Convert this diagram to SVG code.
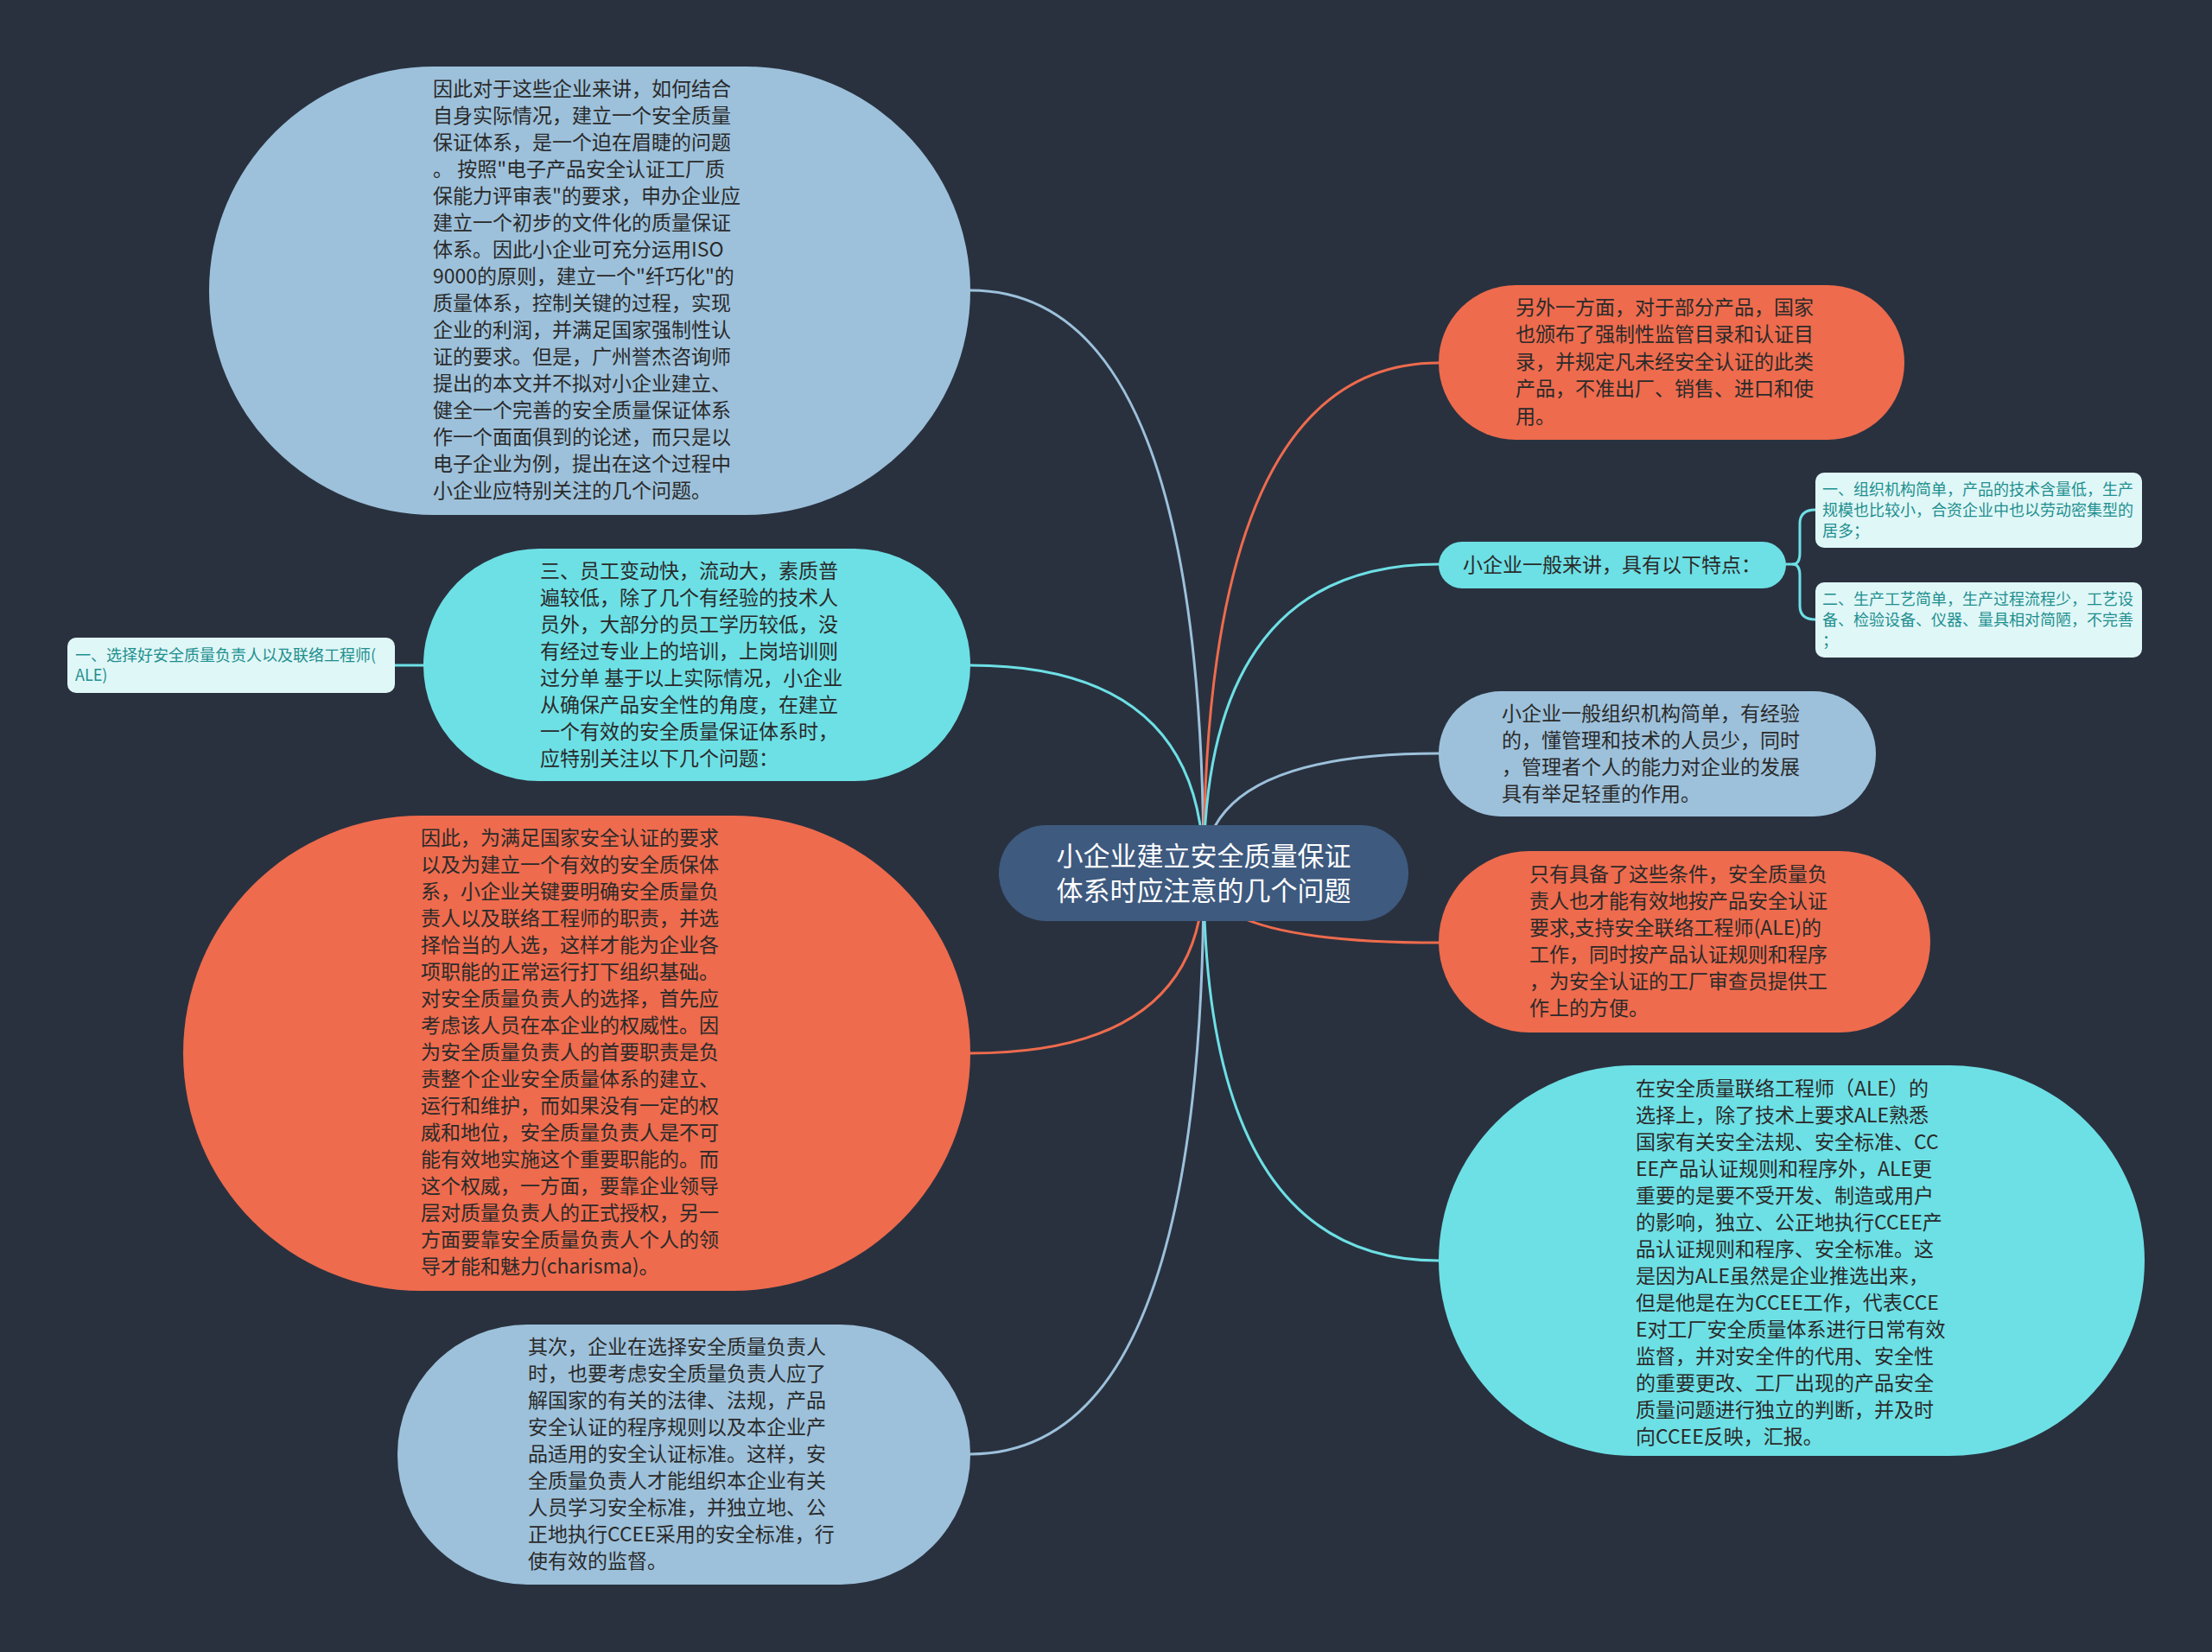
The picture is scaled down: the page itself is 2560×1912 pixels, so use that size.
<svg xmlns="http://www.w3.org/2000/svg" width="2560" height="1912" viewBox="0 0 2560 1912">
<style>
.blue{fill:#9DC1DB}
.cyan{fill:#6DE0E5}
.orange{fill:#EE6B4D}
.root{fill:#3E5A7F}
.light{fill:#E0F7F7}
.t{font-family:"Noto Sans CJK SC","Noto Sans",sans-serif;font-size:23px;fill:#2A2A2A}
.s{font-family:"Noto Sans CJK SC","Noto Sans",sans-serif;font-size:18px;fill:#1E8F8F}
.rt{font-family:"Noto Sans CJK SC","Noto Sans",sans-serif;font-size:31px;fill:#FFFFFF;text-anchor:middle}
.c{fill:none;stroke-width:3;stroke-linecap:round}
.cb{stroke:#9DC1DB}
.cc{stroke:#6DE0E5}
.co{stroke:#EE6B4D}
</style>
<rect x="0" y="0" width="2560" height="1912" fill="#29313F"/>
<g id="connectors">
<path class="c cb" d="M1393,1010 Q1393,336 1123,336"/>
<path class="c cc" d="M1393,1010 Q1393,770 1123,770"/>
<path class="c co" d="M1393,1010 Q1393,1219 1123,1219"/>
<path class="c cb" d="M1393,1010 Q1393,1683 1123,1683"/>
<path class="c co" d="M1393,1010 Q1393,420 1665,420"/>
<path class="c cc" d="M1393,1010 Q1393,653 1665,653"/>
<path class="c cb" d="M1393,1010 Q1393,872 1665,872"/>
<path class="c co" d="M1393,1010 Q1393,1091 1665,1091"/>
<path class="c cc" d="M1393,1010 Q1393,1459 1665,1459"/>
<path class="c cc" d="M490,770 L457,770"/>
<path class="c cc" d="M2067,653 H2075 Q2083,653 2083,640 V606 Q2083,590 2101,590"/>
<path class="c cc" d="M2075,653 Q2083,653 2083,666 V701 Q2083,717 2101,717"/>
</g>
<g id="root">
<rect class="root" x="1156" y="955" width="474" height="111" rx="55" ry="55"/>
<text class="rt"><tspan x="1393" y="1002">小企业建立安全质量保证</tspan><tspan x="1393" y="1042">体系时应注意的几个问题</tspan></text>
</g>
<g id="node-a">
<rect class="blue" x="242" y="77" width="881" height="519" rx="260" ry="260"/>
<text class="t">
<tspan x="501" y="111">因此对于这些企业来讲，如何结合</tspan>
<tspan x="501" y="142">自身实际情况，建立一个安全质量</tspan>
<tspan x="501" y="173">保证体系，是一个迫在眉睫的问题</tspan>
<tspan x="501" y="204">。 按照"电子产品安全认证工厂质</tspan>
<tspan x="501" y="235">保能力评审表"的要求，申办企业应</tspan>
<tspan x="501" y="266">建立一个初步的文件化的质量保证</tspan>
<tspan x="501" y="297">体系。因此小企业可充分运用ISO</tspan>
<tspan x="501" y="328">9000的原则，建立一个"纤巧化"的</tspan>
<tspan x="501" y="359">质量体系，控制关键的过程，实现</tspan>
<tspan x="501" y="390">企业的利润，并满足国家强制性认</tspan>
<tspan x="501" y="421">证的要求。但是，广州誉杰咨询师</tspan>
<tspan x="501" y="452">提出的本文并不拟对小企业建立、</tspan>
<tspan x="501" y="483">健全一个完善的安全质量保证体系</tspan>
<tspan x="501" y="514">作一个面面俱到的论述，而只是以</tspan>
<tspan x="501" y="545">电子企业为例，提出在这个过程中</tspan>
<tspan x="501" y="576">小企业应特别关注的几个问题。</tspan>
</text>
</g>
<g id="node-b">
<rect class="cyan" x="490" y="635" width="633" height="269" rx="134" ry="134"/>
<text class="t">
<tspan x="625" y="669">三、员工变动快，流动大，素质普</tspan>
<tspan x="625" y="700">遍较低，除了几个有经验的技术人</tspan>
<tspan x="625" y="731">员外，大部分的员工学历较低，没</tspan>
<tspan x="625" y="762">有经过专业上的培训，上岗培训则</tspan>
<tspan x="625" y="793">过分单 基于以上实际情况，小企业</tspan>
<tspan x="625" y="824">从确保产品安全性的角度，在建立</tspan>
<tspan x="625" y="855">一个有效的安全质量保证体系时，</tspan>
<tspan x="625" y="886">应特别关注以下几个问题：</tspan>
</text>
</g>
<g id="node-b1">
<rect class="light" x="78" y="738" width="379" height="64" rx="10" ry="10"/>
<text class="s"><tspan x="87" y="765">一、选择好安全质量负责人以及联络工程师(</tspan><tspan x="87" y="788">ALE)</tspan></text>
</g>
<g id="node-c">
<rect class="orange" x="212" y="944" width="911" height="550" rx="275" ry="275"/>
<text class="t">
<tspan x="487" y="978">因此，为满足国家安全认证的要求</tspan>
<tspan x="487" y="1009">以及为建立一个有效的安全质保体</tspan>
<tspan x="487" y="1040">系，小企业关键要明确安全质量负</tspan>
<tspan x="487" y="1071">责人以及联络工程师的职责，并选</tspan>
<tspan x="487" y="1102">择恰当的人选，这样才能为企业各</tspan>
<tspan x="487" y="1133">项职能的正常运行打下组织基础。</tspan>
<tspan x="487" y="1164">对安全质量负责人的选择，首先应</tspan>
<tspan x="487" y="1195">考虑该人员在本企业的权威性。因</tspan>
<tspan x="487" y="1226">为安全质量负责人的首要职责是负</tspan>
<tspan x="487" y="1257">责整个企业安全质量体系的建立、</tspan>
<tspan x="487" y="1288">运行和维护，而如果没有一定的权</tspan>
<tspan x="487" y="1319">威和地位，安全质量负责人是不可</tspan>
<tspan x="487" y="1350">能有效地实施这个重要职能的。而</tspan>
<tspan x="487" y="1381">这个权威，一方面，要靠企业领导</tspan>
<tspan x="487" y="1412">层对质量负责人的正式授权，另一</tspan>
<tspan x="487" y="1443">方面要靠安全质量负责人个人的领</tspan>
<tspan x="487" y="1474">导才能和魅力(charisma)。</tspan>
</text>
</g>
<g id="node-d">
<rect class="blue" x="460" y="1533" width="663" height="301" rx="150" ry="150"/>
<text class="t">
<tspan x="611" y="1567">其次，企业在选择安全质量负责人</tspan>
<tspan x="611" y="1598">时，也要考虑安全质量负责人应了</tspan>
<tspan x="611" y="1629">解国家的有关的法律、法规，产品</tspan>
<tspan x="611" y="1660">安全认证的程序规则以及本企业产</tspan>
<tspan x="611" y="1691">品适用的安全认证标准。这样，安</tspan>
<tspan x="611" y="1722">全质量负责人才能组织本企业有关</tspan>
<tspan x="611" y="1753">人员学习安全标准，并独立地、公</tspan>
<tspan x="611" y="1784">正地执行CCEE采用的安全标准，行</tspan>
<tspan x="611" y="1815">使有效的监督。</tspan>
</text>
</g>
<g id="node-e">
<rect class="orange" x="1665" y="330" width="539" height="179" rx="89" ry="89"/>
<text class="t">
<tspan x="1754" y="364">另外一方面，对于部分产品，国家</tspan>
<tspan x="1754" y="395">也颁布了强制性监管目录和认证目</tspan>
<tspan x="1754" y="427">录，并规定凡未经安全认证的此类</tspan>
<tspan x="1754" y="458">产品，不准出厂、销售、进口和使</tspan>
<tspan x="1754" y="490">用。</tspan>
</text>
</g>
<g id="node-f">
<rect class="cyan" x="1665" y="627" width="402" height="54" rx="27" ry="27"/>
<text class="t"><tspan x="1693" y="662">小企业一般来讲，具有以下特点：</tspan></text>
</g>
<g id="node-g1">
<rect class="light" x="2101" y="547" width="378" height="87" rx="10" ry="10"/>
<text class="s"><tspan x="2109" y="573">一、组织机构简单，产品的技术含量低，生产</tspan><tspan x="2109" y="597">规模也比较小，合资企业中也以劳动密集型的</tspan><tspan x="2109" y="621">居多；</tspan></text>
</g>
<g id="node-g2">
<rect class="light" x="2101" y="674" width="378" height="87" rx="10" ry="10"/>
<text class="s"><tspan x="2109" y="700">二、生产工艺简单，生产过程流程少，工艺设</tspan><tspan x="2109" y="724">备、检验设备、仪器、量具相对简陋，不完善</tspan><tspan x="2109" y="748">；</tspan></text>
</g>
<g id="node-h">
<rect class="blue" x="1665" y="800" width="506" height="145" rx="72" ry="72"/>
<text class="t">
<tspan x="1738" y="834">小企业一般组织机构简单，有经验</tspan>
<tspan x="1738" y="865">的，懂管理和技术的人员少，同时</tspan>
<tspan x="1738" y="896">，管理者个人的能力对企业的发展</tspan>
<tspan x="1738" y="927">具有举足轻重的作用。</tspan>
</text>
</g>
<g id="node-i">
<rect class="orange" x="1665" y="985" width="569" height="210" rx="105" ry="105"/>
<text class="t">
<tspan x="1770" y="1020">只有具备了这些条件，安全质量负</tspan>
<tspan x="1770" y="1051">责人也才能有效地按产品安全认证</tspan>
<tspan x="1770" y="1082">要求,支持安全联络工程师(ALE)的</tspan>
<tspan x="1770" y="1113">工作，同时按产品认证规则和程序</tspan>
<tspan x="1770" y="1144">，为安全认证的工厂审查员提供工</tspan>
<tspan x="1770" y="1175">作上的方便。</tspan>
</text>
</g>
<g id="node-j">
<rect class="cyan" x="1665" y="1233" width="817" height="452" rx="226" ry="226"/>
<text class="t">
<tspan x="1893" y="1268">在安全质量联络工程师（ALE）的</tspan>
<tspan x="1893" y="1299">选择上，除了技术上要求ALE熟悉</tspan>
<tspan x="1893" y="1330">国家有关安全法规、安全标准、CC</tspan>
<tspan x="1893" y="1361">EE产品认证规则和程序外，ALE更</tspan>
<tspan x="1893" y="1392">重要的是要不受开发、制造或用户</tspan>
<tspan x="1893" y="1423">的影响，独立、公正地执行CCEE产</tspan>
<tspan x="1893" y="1454">品认证规则和程序、安全标准。这</tspan>
<tspan x="1893" y="1485">是因为ALE虽然是企业推选出来，</tspan>
<tspan x="1893" y="1516">但是他是在为CCEE工作，代表CCE</tspan>
<tspan x="1893" y="1547">E对工厂安全质量体系进行日常有效</tspan>
<tspan x="1893" y="1578">监督，并对安全件的代用、安全性</tspan>
<tspan x="1893" y="1609">的重要更改、工厂出现的产品安全</tspan>
<tspan x="1893" y="1640">质量问题进行独立的判断，并及时</tspan>
<tspan x="1893" y="1671">向CCEE反映，汇报。</tspan>
</text>
</g>
</svg>
